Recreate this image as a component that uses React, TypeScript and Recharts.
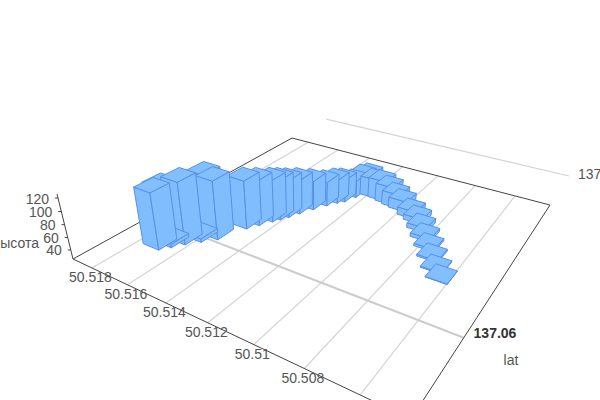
import React from "react";
import { ComposedChart, XAxis, YAxis, Scatter, ReferenceLine } from "recharts";

const barLat = [50.51722,50.51692,50.5166,50.51618,50.51574,50.51528,50.515,50.5147,50.51452,50.51433,50.51411,50.51381,50.51349,50.51322,50.51299,50.51278,50.5126,50.51233,50.51191,50.51145,50.51099,50.51057,50.51016,50.50951,50.50908,50.50864,50.50819,50.50774,50.50731,50.50685,50.50642,50.51766,50.5164];
const barLon = [137.06505,137.06339,137.06148,137.05939,137.05724,137.05171,137.04956,137.04722,137.04587,137.04433,137.04212,137.03942,137.03677,137.03481,137.03358,137.03081,137.02854,137.02774,137.02897,137.02915,137.02971,137.03026,137.03075,137.03229,137.03333,137.03561,137.03806,137.04046,137.0431,137.04575,137.04778,137.06185,137.0565];
const barAlt = [116,31,125,31,120,105,100,95,92,88,83,75,67,66,64,55,58,60,58,60,56,49,43,38,34,33,31,29,28,27,26,108,120];

const latTicks = [50.518,50.516,50.514,50.512,50.51,50.508,50.506];
const latTickLabels = ["50.518","50.516","50.514","50.512","50.51","50.508",""];
const altTicks = [40,60,80,100,120];

const FONT = "'Liberation Sans', Arial, sans-serif";
const LAT0 = 50.51914, LAT_K = 67.6, LON0 = 137.0766, LON_K = 16.27, ALT0 = 25.2, ALT_K = 0.00063;
const VX = 309, VY = 1219;
const DU = 0.061, DV = 0.068;

function uv(u: number, v: number, alt: number) {
  const t = -(alt - ALT0) * ALT_K;
  const W = -0.2888 * u + 0.4657 * v + 1 + t;
  return {
    x: (219.3 * u + 355 * v + 73 + t * VX) / W,
    y: (39 * u - 56.73 * v + 259 + t * VY) / W,
    w: W,
  };
}
const U = (lat: number) => (LAT0 - lat) * LAT_K;
const V = (lon: number) => (LON0 - lon) * LON_K;
const pts = (a: { x: number; y: number }[]) => a.map((p) => `${p.x},${p.y}`).join(" ");

const barRows = barLat
  .map((lat, i) => {
    const u = U(lat), v = V(barLon[i]), a = barAlt[i];
    const base = uv(u, v, ALT0);
    const c = (su: number, sv: number, h: number) => uv(u + (su * DU) / 2, v + (sv * DV) / 2, h);
    return {
      sx: base.x, sy: base.y, w: base.w,
      left: pts([c(-1,-1,ALT0), c(1,-1,ALT0), c(1,-1,a), c(-1,-1,a)]),
      right: pts([c(1,-1,ALT0), c(1,1,ALT0), c(1,1,a), c(1,-1,a)]),
      top: pts([c(-1,-1,a), c(1,-1,a), c(1,1,a), c(-1,1,a)]),
    };
  })
  .sort((a, b) => b.w - a.w);

type Lbl = { sx: number; sy: number; text: string; anchor: string; color: string; weight?: string };
const labels: Lbl[] = [];
latTicks.forEach((lat, i) => {
  const p = uv(U(lat), 0, ALT0);
  if (latTickLabels[i]) labels.push({ sx: p.x - 1.5, sy: p.y + 9.5, text: latTickLabels[i], anchor: "middle", color: "#555" });
});
altTicks.forEach((a) => {
  const p = uv(0, 0, a);
  labels.push({ sx: p.x - 9, sy: p.y + 0.5, text: String(a), anchor: "end", color: "#555" });
});
labels.push({ sx: 39, sy: 243, text: "высота", anchor: "end", color: "#555" });
labels.push({ sx: 511, sy: 360, text: "lat", anchor: "middle", color: "#555" });
labels.push({ sx: 578, sy: 174, text: "137", anchor: "start", color: "#555" });
labels.push({ sx: 495, sy: 333, text: "137.06", anchor: "middle", color: "#333", weight: "bold" });

const seg = (a: { x: number; y: number }, b: { x: number; y: number }) => [
  { x: a.x, y: a.y },
  { x: b.x, y: b.y },
] as any;

const BarBox = (props: any) => {
  const d = props.payload;
  const fill = "#80bdff", stroke = "#5a8fe6";
  return (
    <g strokeLinejoin="round">
      <polygon points={d.left} fill={fill} stroke={stroke} strokeWidth={1} />
      <polygon points={d.right} fill={fill} stroke={stroke} strokeWidth={1} />
      <polygon points={d.top} fill="#82bfff" stroke={stroke} strokeWidth={1} />
    </g>
  );
};
const TextMark = (props: any) => {
  const d = props.payload;
  return (
    <text x={d.sx} y={d.sy} textAnchor={d.anchor} dominantBaseline="central" fontFamily={FONT} fontSize={14} fontWeight={d.weight || "normal"} fill={d.color}>
      {d.text}
    </text>
  );
};

const corner = {
  a: uv(0, 0, ALT0), b: uv(0, 1, ALT0), c: uv(1, 1, ALT0), d: uv(1, 0, ALT0),
};
const GRID = "#d4d4d4";

export default function App() {
  return (
    <div style={{ position: "fixed", left: 0, top: 0, width: 600, height: 400, overflow: "hidden", background: "#fff" }}>
      <ComposedChart width={600} height={400} margin={{ top: 0, right: 0, bottom: 0, left: 0 }}>
        <XAxis type="number" dataKey="sx" domain={[0, 600]} hide allowDataOverflow />
        <YAxis type="number" dataKey="sy" domain={[0, 400]} reversed hide allowDataOverflow />
        {latTicks.map((lat) => (
          <ReferenceLine key={lat} segment={seg(uv(U(lat), 0, ALT0), uv(U(lat), 1, ALT0))} stroke={GRID} strokeWidth={1.2} ifOverflow="visible" />
        ))}
        <ReferenceLine segment={seg(uv(0, V(137.06), ALT0), uv(1, V(137.06), ALT0))} stroke="#ccc" strokeWidth={2} ifOverflow="visible" />
        <ReferenceLine segment={seg(uv(0, V(137), ALT0), uv(1, V(137), ALT0))} stroke={GRID} strokeWidth={1.2} ifOverflow="visible" />
        <ReferenceLine segment={seg(corner.a, corner.b)} stroke="#444" strokeWidth={1} ifOverflow="visible" />
        <ReferenceLine segment={seg(corner.b, corner.c)} stroke="#444" strokeWidth={1} ifOverflow="visible" />
        <ReferenceLine segment={seg(corner.c, corner.d)} stroke="#444" strokeWidth={1} ifOverflow="visible" />
        <ReferenceLine segment={seg(corner.d, corner.a)} stroke="#444" strokeWidth={1} ifOverflow="visible" />
        <ReferenceLine segment={seg(corner.a, uv(0, 0, 125.8))} stroke="#444" strokeWidth={1} ifOverflow="visible" />
        {altTicks.map((a) => {
          const p = uv(0, 0, a);
          return <ReferenceLine key={a} segment={seg({ x: p.x - 3, y: p.y }, p)} stroke="#444" strokeWidth={1} ifOverflow="visible" />;
        })}
        <Scatter data={barRows} dataKey="sy" shape={BarBox} isAnimationActive={false} />
        <Scatter data={labels} dataKey="sy" shape={TextMark} isAnimationActive={false} />
      </ComposedChart>
    </div>
  );
}
